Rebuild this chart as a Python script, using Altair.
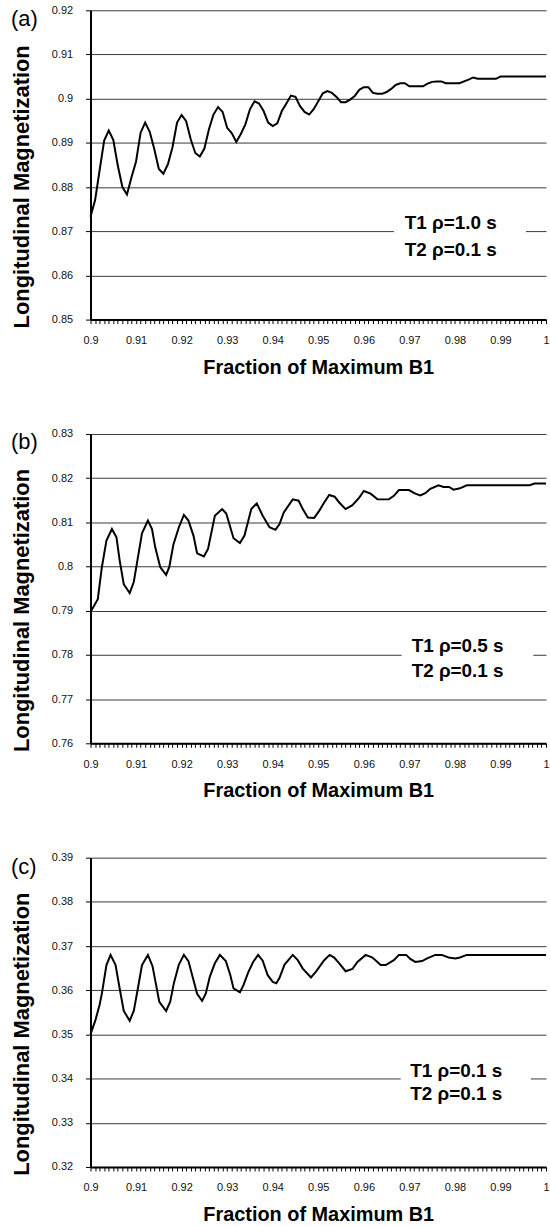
import altair as alt
import pandas as pd

FONT = "Liberation Sans"

# ---------------- data ----------------
# (a) one value per category step of 0.001 from 0.900 to 1.000
a_vals = [0.8733, 0.8770, 0.8838, 0.8905, 0.8928, 0.8907, 0.8848, 0.8800, 0.8783, 0.8822,
          0.8858, 0.8923, 0.8946, 0.8925, 0.8886, 0.8841, 0.8830, 0.8852, 0.8890, 0.8946,
          0.8963, 0.8949, 0.8908, 0.8877, 0.8869, 0.8887, 0.8931, 0.8964, 0.8981, 0.8970,
          0.8934, 0.8922, 0.8902, 0.8920, 0.8942, 0.8976, 0.8994, 0.8989, 0.8972, 0.8946,
          0.8938, 0.8944, 0.8972, 0.8989, 0.9007, 0.9004, 0.8983, 0.8970, 0.8964, 0.8976,
          0.8994, 0.9012, 0.9017, 0.9013, 0.9004, 0.8992, 0.8992, 0.8998, 0.9006, 0.9020,
          0.9026, 0.9026, 0.9013, 0.9011, 0.9011, 0.9015, 0.9022, 0.9031, 0.9035, 0.9035,
          0.9028, 0.9028, 0.9028, 0.9028, 0.9034, 0.9038, 0.9039, 0.9039, 0.9035, 0.9035,
          0.9035, 0.9035, 0.9039, 0.9043, 0.9048, 0.9045, 0.9045, 0.9045, 0.9045, 0.9045,
          0.9050, 0.9050, 0.9050, 0.9050, 0.9050, 0.9050, 0.9050, 0.9050, 0.9050, 0.9050,
          0.9050]
a_x = [round(0.9 + 0.001 * i, 3) for i in range(len(a_vals))]

# (b) vertices
b_x = [0.9, 0.9016, 0.9025, 0.9035, 0.9047, 0.9057, 0.9064, 0.9073, 0.9086, 0.9095,
       0.9103, 0.9113, 0.9126, 0.9135, 0.9142, 0.9153, 0.9166, 0.9173, 0.9182, 0.9194,
       0.9205, 0.9215, 0.9226, 0.9234, 0.9249, 0.9258, 0.9273, 0.9289, 0.9298, 0.9314,
       0.9328, 0.9338, 0.9353, 0.9365, 0.9378, 0.9393, 0.9406, 0.9415, 0.9424, 0.9444,
       0.9457, 0.9466, 0.9477, 0.9491, 0.9502, 0.9513, 0.9524, 0.9536, 0.9546, 0.9560,
       0.9575, 0.9590, 0.9600, 0.9615, 0.9630, 0.9655, 0.9666, 0.9677, 0.9699, 0.9713,
       0.9724, 0.9735, 0.9746, 0.9764, 0.9775, 0.9787, 0.9797, 0.9811, 0.9826, 0.9964,
       0.9975, 1.0]
b_vals = [0.7897, 0.7926, 0.7999, 0.8059, 0.8085, 0.8066, 0.8014, 0.7960, 0.7940, 0.7965,
          0.8014, 0.8075, 0.8104, 0.8085, 0.8044, 0.7999, 0.7981, 0.7999, 0.8050, 0.8089,
          0.8117, 0.8104, 0.8070, 0.8030, 0.8023, 0.8040, 0.8115, 0.8130, 0.8120, 0.8064,
          0.8053, 0.8070, 0.8130, 0.8143, 0.8115, 0.8089, 0.8083, 0.8096, 0.8122, 0.8152,
          0.8149, 0.8130, 0.8111, 0.8110, 0.8126, 0.8145, 0.8162, 0.8158, 0.8145, 0.8130,
          0.8139, 0.8156, 0.8171, 0.8165, 0.8152, 0.8152, 0.8160, 0.8173, 0.8173, 0.8165,
          0.8161, 0.8166, 0.8176, 0.8184, 0.8180, 0.8180, 0.8174, 0.8177, 0.8184, 0.8184,
          0.8188, 0.8188]

# (c) vertices
c_x = [0.9, 0.9011, 0.9020, 0.9025, 0.9035, 0.9044, 0.9055, 0.9064, 0.9073, 0.9086,
       0.9095, 0.9104, 0.9113, 0.9126, 0.9136, 0.9144, 0.9151, 0.9166, 0.9175, 0.9183,
       0.9194, 0.9205, 0.9215, 0.9226, 0.9234, 0.9245, 0.9253, 0.9262, 0.9273, 0.9284,
       0.9297, 0.9307, 0.9314, 0.9328, 0.9336, 0.9346, 0.9357, 0.9368, 0.9378, 0.9389,
       0.9400, 0.9408, 0.9415, 0.9426, 0.9444, 0.9455, 0.9466, 0.9484, 0.9495, 0.9513,
       0.9525, 0.9535, 0.9546, 0.9560, 0.9575, 0.9586, 0.9604, 0.9619, 0.9637, 0.9648,
       0.9666, 0.9677, 0.9693, 0.9702, 0.9713, 0.9728, 0.9739, 0.9757, 0.9771, 0.9786,
       0.9801, 0.9811, 0.9826, 1.0]
c_vals = [0.3500, 0.3533, 0.3567, 0.3593, 0.3657, 0.3680, 0.3657, 0.3604, 0.3553, 0.3531,
          0.3553, 0.3604, 0.3657, 0.3680, 0.3655, 0.3612, 0.3574, 0.3553, 0.3574, 0.3616,
          0.3658, 0.3680, 0.3666, 0.3623, 0.3592, 0.3576, 0.3592, 0.3631, 0.3661, 0.3680,
          0.3666, 0.3634, 0.3604, 0.3595, 0.3612, 0.3640, 0.3664, 0.3680, 0.3667, 0.3634,
          0.3619, 0.3616, 0.3628, 0.3658, 0.3680, 0.3668, 0.3649, 0.3629, 0.3642, 0.3668,
          0.3680, 0.3674, 0.3661, 0.3643, 0.3648, 0.3664, 0.3680, 0.3674, 0.3657, 0.3657,
          0.3668, 0.3680, 0.3680, 0.3671, 0.3664, 0.3666, 0.3672, 0.3680, 0.3680, 0.3674,
          0.3672, 0.3674, 0.3680, 0.3680]

# axis ticks
x_ticks = [round(0.9 + 0.001 * i, 3) for i in range(101)]
a_yticks = [0.85, 0.86, 0.87, 0.88, 0.89, 0.90, 0.91, 0.92]
b_yticks = [0.76, 0.77, 0.78, 0.79, 0.80, 0.81, 0.82, 0.83]
c_yticks = [0.32, 0.33, 0.34, 0.35, 0.36, 0.37, 0.38, 0.39]

# annotation texts
a_lines = ["T1 ρ=1.0 s", "T2 ρ=0.1 s"]
b_lines = ["T1 ρ=0.5 s", "T2 ρ=0.1 s"]
c_lines = ["T1  ρ=0.1 s", "T2  ρ=0.1 s"]

X_TITLE = "Fraction of Maximum B1"
Y_TITLE = "Longitudinal Magnetization"

W, H = 458, 311
LABEL_X = 0.88253  # panel letter position (data units, left of the y axis)


def panel(label, label_y, xs, ys, yticks, lines, box, text_x, text_ys):
    xscale = alt.Scale(domain=[0.9, 1.0], nice=False, zero=False)
    yscale = alt.Scale(domain=[yticks[0], yticks[-1]], nice=False, zero=False)
    xaxis = alt.Axis(
        values=x_ticks,
        labelExpr="round(datum.value*1000) % 10 == 0 ? format(datum.value, '.2~f') : ''",
        labelOverlap=False, labelFlush=False, labelBound=False,
        title=X_TITLE, grid=False,
        tickSize=4, tickColor="black", tickWidth=1,
        domainColor="black", domainWidth=2,
        labelFont=FONT, labelFontSize=11, labelColor="#111", labelPadding=11,
        titleFont=FONT, titleFontSize=20, titleFontWeight="bold", titleColor="black",
        titleY=54, titleBaseline="alphabetic",
    )
    yaxis = alt.Axis(
        values=yticks, format=".2~f",
        title=Y_TITLE, grid=True, gridColor="#3a3a3a", gridWidth=1,
        tickSize=5, tickColor="black", tickWidth=1,
        domainColor="black", domainWidth=2,
        labelFont=FONT, labelFontSize=11, labelColor="#111", labelPadding=13,
        titleFont=FONT, titleFontSize=22, titleFontWeight="bold", titleColor="black",
        titleAngle=270, titleX=-62, titleY=177, titleAlign="center",
        titleBaseline="alphabetic",
    )
    X = lambda f: alt.X(f, scale=xscale, axis=xaxis)
    Y = lambda f: alt.Y(f, scale=yscale, axis=yaxis)

    df = pd.DataFrame({"x": xs, "y": ys})
    line = alt.Chart(df).mark_line(color="black", strokeWidth=2).encode(
        x=X("x:Q"), y=Y("y:Q"))

    box_df = pd.DataFrame({"x": [box[0]], "x2": [box[1]], "y": [box[2]], "y2": [box[3]]})
    rect = alt.Chart(box_df).mark_rect(color="white").encode(
        x=X("x:Q"), x2="x2:Q", y=Y("y:Q"), y2="y2:Q")

    txt_df = pd.DataFrame({"x": [text_x, text_x], "y": text_ys, "t": lines})
    text = alt.Chart(txt_df).mark_text(
        align="left", baseline="middle", font=FONT, fontSize=19,
        fontWeight="bold", color="black",
    ).encode(x=X("x:Q"), y=Y("y:Q"), text="t:N")

    lab_df = pd.DataFrame({"x": [LABEL_X], "y": [label_y], "t": [label]})
    lab = alt.Chart(lab_df).mark_text(
        align="left", baseline="alphabetic", font=FONT, fontSize=22,
        color="black", clip=False,
    ).encode(x=X("x:Q"), y=Y("y:Q"), text="t:N")

    return alt.layer(line, rect, text, lab).properties(width=W, height=H)


pa = panel("(a)", 0.9164, a_x, a_vals, a_yticks, a_lines,
           (0.9666, 0.9956, 0.8625, 0.8735), 0.9690, [0.8718, 0.8657])
pb = panel("(b)", 0.8266, b_x, b_vals, b_yticks, b_lines,
           (0.9683, 0.9972, 0.7745, 0.7835), 0.9705, [0.7819, 0.7763])
pc = panel("(c)", 0.3864, c_x, c_vals, c_yticks, c_lines,
           (0.9681, 0.9967, 0.3345, 0.3435), 0.9702, [0.3418, 0.3364])

chart = alt.vconcat(pa, pb, pc, spacing=51).properties(
    padding={"left": 10, "top": 1, "right": 0, "bottom": 0},
    background="white",
).configure_view(stroke=None)

chart.save("out.html", embed_options={"renderer": "svg", "actions": False})
